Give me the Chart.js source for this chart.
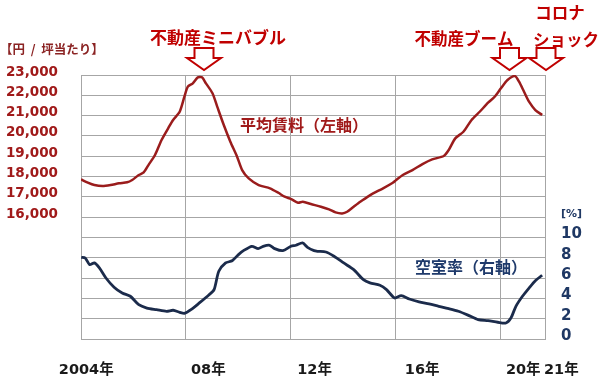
<!DOCTYPE html>
<html>
<head>
<meta charset="utf-8">
<script src="https://cdn.jsdelivr.net/npm/chart.js@4"></script>
<style>
    html, body { margin: 0; padding: 0; background: #fff; }
</style>
</head>
<body>
<canvas id="officeChart" width="600" height="378"></canvas>
<script>
// 平均賃料（円/坪）
const rentYears = [2004.00, 2004.26, 2004.51, 2004.82, 2005.13, 2005.45, 2005.76, 2005.95, 2006.20, 2006.39,
    2006.57, 2006.82, 2007.07, 2007.32, 2007.51, 2007.76, 2007.94, 2008.07, 2008.26, 2008.45,
    2008.61, 2008.76, 2009.01, 2009.19, 2009.44, 2009.69, 2009.94, 2010.14, 2010.39, 2010.77,
    2011.20, 2011.52, 2011.76, 2012.01, 2012.27, 2012.45, 2012.76, 2013.14, 2013.45, 2013.70,
    2013.95, 2014.14, 2014.39, 2014.64, 2014.89, 2015.13, 2015.51, 2015.88, 2016.01, 2016.26,
    2016.63, 2017.01, 2017.38, 2017.82, 2018.01, 2018.26, 2018.57, 2018.88, 2019.19, 2019.51,
    2019.76, 2020.00, 2020.25, 2020.53, 2020.69, 2020.88, 2021.07, 2021.31, 2021.57];
const rentValues = [17860, 17700, 17580, 17530, 17580, 17665, 17715, 17830, 18075, 18205,
    18565, 19060, 19800, 20375, 20785, 21190, 21930, 22425, 22590, 22885,
    22885, 22590, 22100, 21440, 20535, 19715, 19000, 18320, 17910, 17580,
    17420, 17200, 17005, 16890, 16710, 16760, 16645, 16515, 16385, 16235,
    16185, 16265, 16515, 16760, 16975, 17170, 17420, 17695, 17830, 18075,
    18320, 18615, 18845, 19010, 19305, 19880, 20205, 20785, 21190, 21635,
    21930, 22345, 22755, 22950, 22670, 22175, 21685, 21275, 21030];

// 空室率（%）
const vacancyYears = [2004.01, 2004.16, 2004.33, 2004.51, 2004.70, 2004.95, 2005.26, 2005.57, 2005.88, 2006.20,
    2006.51, 2006.88, 2007.26, 2007.51, 2007.76, 2007.94, 2008.19, 2008.51, 2008.88, 2009.07,
    2009.25, 2009.51, 2009.76, 2010.00, 2010.19, 2010.51, 2010.75, 2010.94, 2011.19, 2011.38,
    2011.69, 2012.00, 2012.19, 2012.44, 2012.63, 2012.88, 2013.01, 2013.33, 2013.64, 2014.01,
    2014.39, 2014.76, 2015.01, 2015.39, 2015.64, 2015.95, 2016.20, 2016.51, 2016.88, 2017.26,
    2017.63, 2018.01, 2018.38, 2018.76, 2019.13, 2019.51, 2019.88, 2020.19, 2020.38, 2020.57,
    2020.82, 2021.07, 2021.31, 2021.57];
const vacancyValues = [8.05, 7.98, 7.32, 7.49, 7.00, 6.01, 5.10, 4.53, 4.21, 3.38,
    3.05, 2.89, 2.73, 2.83, 2.63, 2.53, 2.89, 3.55, 4.36, 4.86,
    6.67, 7.49, 7.71, 8.31, 8.70, 9.13, 8.90, 9.13, 9.23, 8.90,
    8.70, 9.13, 9.23, 9.46, 9.03, 8.70, 8.64, 8.57, 8.15, 7.49,
    6.83, 5.84, 5.52, 5.29, 4.86, 4.04, 4.27, 3.94, 3.65, 3.45,
    3.22, 2.99, 2.73, 2.33, 1.90, 1.80, 1.65, 1.58, 2.07, 3.22,
    4.21, 5.02, 5.74, 6.28];

const gridYears = [2004, 2008, 2012, 2016, 2020];
const xTickYears = [2004.2, 2008.85, 2012.9, 2017.0, 2020.85, 2022.3];
const xTickLabels = ['2004年', '08年', '12年', '16年', '20年', '21年'];

const JP = '"Noto Sans CJK JP", sans-serif';
const NUM = '"DejaVu Sans", "Noto Sans CJK JP", sans-serif';
const GRID = '#a6a6a6';

const notesPlugin = {
    id: 'notes',
    afterDraw(chart) {
        const ctx = chart.ctx;
        ctx.save();
        ctx.textBaseline = 'middle';

        function text(str, x, y, align, color, font) {
            ctx.textAlign = align;
            ctx.fillStyle = color;
            ctx.font = font;
            ctx.fillText(str, x, y);
        }

        function arrow(cx, top, bottom) {
            ctx.beginPath();
            ctx.moveTo(cx - 9.5, top);
            ctx.lineTo(cx + 9.5, top);
            ctx.lineTo(cx + 9.5, top + 10);
            ctx.lineTo(cx + 17, top + 10);
            ctx.lineTo(cx, bottom);
            ctx.lineTo(cx - 17, top + 10);
            ctx.lineTo(cx - 9.5, top + 10);
            ctx.closePath();
            ctx.fillStyle = '#fff';
            ctx.fill();
            ctx.lineWidth = 2;
            ctx.strokeStyle = '#c00000';
            ctx.stroke();
        }

        text('【円  /  坪当たり】', 0, 49, 'left', '#8b2323', 'bold 12.5px ' + JP);
        text('不動産ミニバブル', 218, 38, 'center', '#c00000', 'bold 17px ' + JP);
        text('不動産ブーム', 464, 39, 'center', '#c00000', 'bold 16.5px ' + JP);
        text('コロナ', 560, 13, 'center', '#c00000', 'bold 16.5px ' + JP);
        text('ショック', 566, 40, 'center', '#c00000', 'bold 16.5px ' + JP);
        text('平均賃料（左軸）', 240, 125, 'left', '#a01a1a', 'bold 16px ' + JP);
        text('空室率（右軸）', 415, 267, 'left', '#1f3a6b', 'bold 16px ' + JP);

        arrow(204, 48, 70);
        arrow(509.5, 48, 70);
        arrow(546, 48, 70);
        ctx.restore();
    }
};

new Chart('officeChart', {
    type: 'line',
    data: {
        datasets: [{
            label: '平均賃料',
            data: rentYears.map((x, i) => ({ x: x, y: rentValues[i] })),
            yAxisID: 'y',
            borderColor: '#9a1c1c',
            borderWidth: 2.5,
            pointRadius: 0,
            tension: 0.25
        }, {
            label: '空室率',
            data: vacancyYears.map((x, i) => ({ x: x, y: vacancyValues[i] })),
            yAxisID: 'y1',
            borderColor: '#1b2b4b',
            borderWidth: 2.8,
            pointRadius: 0,
            tension: 0.25
        }]
    },
    options: {
        responsive: false,
        animation: false,
        layout: { padding: { top: 75 } },
        plugins: {
            legend: { display: false },
            tooltip: { enabled: false }
        },
        scales: {
            x: {
                type: 'linear',
                min: 2004,
                max: 2021.68,
                afterBuildTicks: s => { s.ticks = gridYears.map(v => ({ value: v })); },
                ticks: { display: false },
                grid: { color: GRID, drawTicks: false },
                border: { color: GRID },
                afterFit: s => { s.height = 0; }
            },
            xLabels: {
                type: 'linear',
                position: 'bottom',
                weight: 1,
                min: 2004,
                max: 2021.68,
                afterBuildTicks: s => { s.ticks = xTickYears.map(v => ({ value: v })); },
                grid: { display: false, drawTicks: false },
                border: { display: false },
                ticks: {
                    autoSkip: false,
                    maxRotation: 0,
                    padding: 23,
                    color: '#1a1a1a',
                    font: { family: NUM, size: 14.5, weight: 'bold' },
                    callback: (v, i) => xTickLabels[i]
                },
                afterFit: s => { s.height = 39; }
            },
            y: {
                position: 'left',
                min: 10000,
                max: 23000,
                ticks: {
                    stepSize: 1000,
                    autoSkip: false,
                    padding: 23,
                    labelOffset: -3,
                    color: '#a01a1a',
                    font: { family: NUM, size: 13.5, weight: 'bold' },
                    callback: v => v >= 16000 ? v.toLocaleString('en-US') : ''
                },
                grid: { color: GRID, drawTicks: false },
                border: { color: GRID },
                afterFit: s => { s.width = 81; }
            },
            y1: {
                position: 'right',
                min: 0,
                max: 26,
                ticks: {
                    stepSize: 2,
                    autoSkip: false,
                    padding: 16,
                    labelOffset: -3,
                    color: '#1f3864',
                    font: ctx => ctx.tick && ctx.tick.value === 12
                        ? { family: NUM, size: 11, weight: 'bold' }
                        : { family: NUM, size: 15, weight: 'bold' },
                    callback: v => v <= 10 ? v : (v === 12 ? '[%]' : '')
                },
                grid: { display: false, drawTicks: false },
                border: { color: GRID },
                afterFit: s => { s.width = 47; }
            }
        }
    },
    plugins: [notesPlugin]
});
</script>
</body>
</html>
